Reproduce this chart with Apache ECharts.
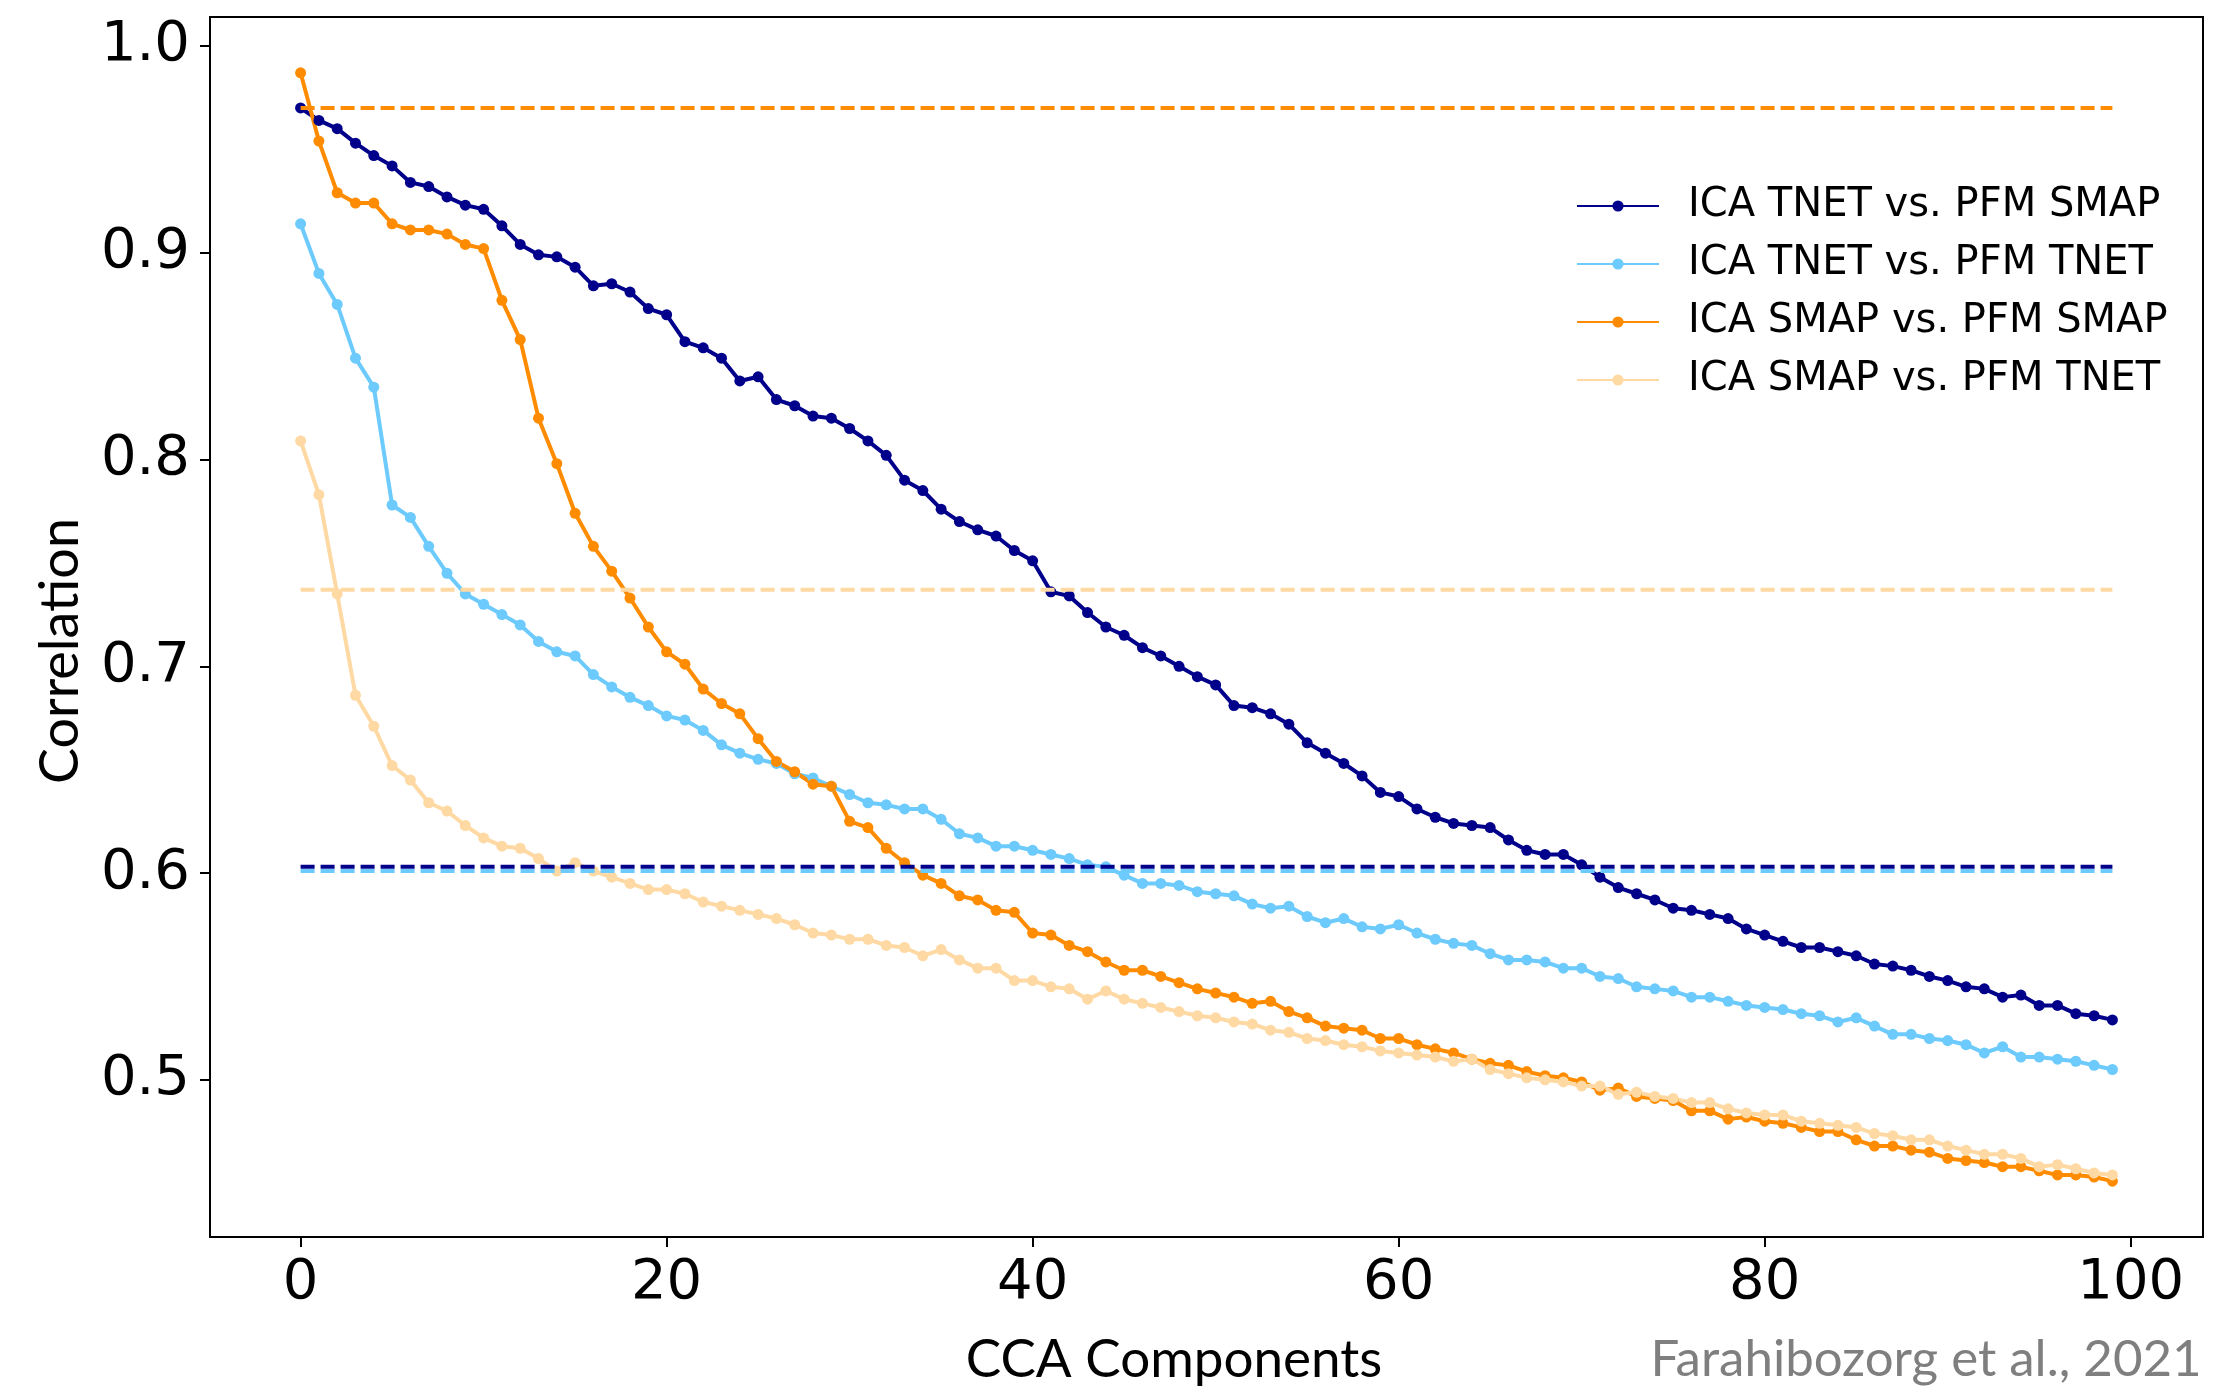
<!DOCTYPE html>
<html>
<head>
<meta charset="utf-8">
<title>CCA correlation</title>
<script src="https://cdn.jsdelivr.net/npm/echarts@6/dist/echarts.min.js"></script>
<style>
  html, body { margin: 0; padding: 0; background: #fff; }
  #chart { width: 2229px; height: 1391px; }
</style>
</head>
<body>
<div id="chart"></div>
<script>
// values, component 0..99
var tnetSmap = [
  0.970, 0.964, 0.960, 0.953, 0.947, 0.942, 0.934, 0.932, 0.927, 0.923, 0.921,
  0.913, 0.904, 0.899, 0.898, 0.893, 0.884, 0.885, 0.881, 0.873, 0.870,
  0.857, 0.854, 0.849, 0.838, 0.840, 0.829, 0.826, 0.821, 0.820, 0.815,
  0.809, 0.802, 0.790, 0.785, 0.776, 0.770, 0.766, 0.763, 0.756, 0.751,
  0.736, 0.734, 0.726, 0.719, 0.715, 0.709, 0.705, 0.700, 0.695, 0.691,
  0.681, 0.680, 0.677, 0.672, 0.663, 0.658, 0.653, 0.647, 0.639, 0.637,
  0.631, 0.627, 0.624, 0.623, 0.622, 0.616, 0.611, 0.609, 0.609, 0.604,
  0.598, 0.593, 0.590, 0.587, 0.583, 0.582, 0.580, 0.578, 0.573, 0.570,
  0.567, 0.564, 0.564, 0.562, 0.560, 0.556, 0.555, 0.553, 0.550, 0.548,
  0.545, 0.544, 0.540, 0.541, 0.536, 0.536, 0.532, 0.531, 0.529
];
var tnetTnet = [
  0.914, 0.890, 0.875, 0.849, 0.835, 0.778, 0.772, 0.758, 0.745, 0.735, 0.730,
  0.725, 0.720, 0.712, 0.707, 0.705, 0.696, 0.690, 0.685, 0.681, 0.676,
  0.674, 0.669, 0.662, 0.658, 0.655, 0.653, 0.648, 0.646, 0.642, 0.638,
  0.634, 0.633, 0.631, 0.631, 0.626, 0.619, 0.617, 0.613, 0.613, 0.611,
  0.609, 0.607, 0.604, 0.603, 0.599, 0.595, 0.595, 0.594, 0.591, 0.590,
  0.589, 0.585, 0.583, 0.584, 0.579, 0.576, 0.578, 0.574, 0.573, 0.575,
  0.571, 0.568, 0.566, 0.565, 0.561, 0.558, 0.558, 0.557, 0.554, 0.554,
  0.550, 0.549, 0.545, 0.544, 0.543, 0.540, 0.540, 0.538, 0.536, 0.535,
  0.534, 0.532, 0.531, 0.528, 0.530, 0.526, 0.522, 0.522, 0.520, 0.519,
  0.517, 0.513, 0.516, 0.511, 0.511, 0.510, 0.509, 0.507, 0.505
];
var smapSmap = [
  0.987, 0.954, 0.929, 0.924, 0.924, 0.914, 0.911, 0.911, 0.909, 0.904, 0.902,
  0.877, 0.858, 0.820, 0.798, 0.774, 0.758, 0.746, 0.733, 0.719, 0.707,
  0.701, 0.689, 0.682, 0.677, 0.665, 0.654, 0.649, 0.643, 0.642, 0.625,
  0.622, 0.612, 0.605, 0.599, 0.595, 0.589, 0.587, 0.582, 0.581, 0.571,
  0.570, 0.565, 0.562, 0.557, 0.553, 0.553, 0.550, 0.547, 0.544, 0.542,
  0.540, 0.537, 0.538, 0.533, 0.530, 0.526, 0.525, 0.524, 0.520, 0.520,
  0.517, 0.515, 0.513, 0.510, 0.508, 0.507, 0.504, 0.502, 0.501, 0.499,
  0.495, 0.496, 0.492, 0.491, 0.490, 0.485, 0.485, 0.481, 0.482, 0.480,
  0.479, 0.477, 0.475, 0.475, 0.471, 0.468, 0.468, 0.466, 0.465, 0.462,
  0.461, 0.460, 0.458, 0.458, 0.456, 0.454, 0.454, 0.453, 0.451
];
var smapTnet = [
  0.809, 0.783, 0.735, 0.686, 0.671, 0.652, 0.645, 0.634, 0.630, 0.623, 0.617,
  0.613, 0.612, 0.607, 0.601, 0.605, 0.601, 0.598, 0.595, 0.592, 0.592,
  0.590, 0.586, 0.584, 0.582, 0.580, 0.578, 0.575, 0.571, 0.570, 0.568,
  0.568, 0.565, 0.564, 0.560, 0.563, 0.558, 0.554, 0.554, 0.548, 0.548,
  0.545, 0.544, 0.539, 0.543, 0.539, 0.537, 0.535, 0.533, 0.531, 0.530,
  0.528, 0.527, 0.524, 0.523, 0.520, 0.519, 0.517, 0.516, 0.514, 0.513,
  0.512, 0.511, 0.509, 0.510, 0.505, 0.503, 0.501, 0.500, 0.499, 0.497,
  0.497, 0.493, 0.494, 0.492, 0.491, 0.489, 0.489, 0.486, 0.484, 0.483,
  0.483, 0.480, 0.479, 0.478, 0.477, 0.474, 0.473, 0.471, 0.471, 0.468,
  0.466, 0.464, 0.464, 0.462, 0.458, 0.459, 0.457, 0.455, 0.454
];
// dashed reference levels, same order as the series
var refLevels = [0.603, 0.601, 0.970, 0.737];
var names = ['ICA TNET vs. PFM SMAP', 'ICA TNET vs. PFM TNET', 'ICA SMAP vs. PFM SMAP', 'ICA SMAP vs. PFM TNET'];
var colors = ['#00008b', '#6ccafc', '#ff8c00', '#ffd9a3'];
var xTicks = [0, 20, 40, 60, 80, 100];
var yTicks = [0.5, 0.6, 0.7, 0.8, 0.9, 1.0];

var chart = echarts.init(document.getElementById('chart'));

var allSeries = [tnetSmap, tnetTnet, smapSmap, smapTnet];
var series = [];
allSeries.forEach(function (vals, k) {
  series.push({
    name: names[k],
    type: 'line',
    data: vals.map(function (v, i) { return [i, v]; }),
    symbol: 'circle',
    symbolSize: 11,
    lineStyle: { width: 4, color: colors[k] },
    itemStyle: { color: colors[k] },
    z: 2
  });
});
refLevels.forEach(function (v, k) {
  series.push({
    name: names[k] + ' ref',
    type: 'line',
    data: [[0, v], [allSeries[k].length - 1, v]],
    symbol: 'none',
    lineStyle: { width: 4, color: colors[k], type: [14, 6] },
    z: 3
  });
});

var option = {
  animation: false,
  backgroundColor: '#fff',
  grid: {
    left: 210, right: 26, top: 17, bottom: 154,
    show: true, borderColor: '#000', borderWidth: 2, backgroundColor: 'transparent'
  },
  legend: {
    data: names,
    orient: 'vertical',
    left: 1571,
    top: 181,
    itemWidth: 82,
    itemHeight: 14,
    itemGap: 18,
    textStyle: { fontFamily: 'DejaVu Sans', fontSize: 40, color: '#000', padding: [0, 0, 0, 24] }
  },
  xAxis: {
    type: 'value',
    min: -4.95,
    max: 103.95,
    axisLine: { show: false, onZero: false },
    splitLine: { show: false },
    axisTick: { show: true, length: 10, inside: false, customValues: xTicks, lineStyle: { color: '#000', width: 2 } },
    axisLabel: { customValues: xTicks, margin: 18, fontFamily: 'DejaVu Sans', fontSize: 56, color: '#000' }
  },
  yAxis: {
    type: 'value',
    min: 0.424,
    max: 1.014,
    axisLine: { show: false, onZero: false },
    splitLine: { show: false },
    axisTick: { show: true, length: 10, inside: false, customValues: yTicks, lineStyle: { color: '#000', width: 2 } },
    axisLabel: {
      customValues: yTicks, margin: 20, fontFamily: 'DejaVu Sans', fontSize: 56, color: '#000',
      formatter: function (v) { return v.toFixed(1); }
    }
  },
  graphic: [
    {
      type: 'text', x: 61, y: 651, rotation: Math.PI / 2,
      style: { text: 'Correlation', fontFamily: 'Lato', fontSize: 54, fill: '#000', align: 'center', verticalAlign: 'middle' }
    },
    {
      type: 'text', x: 1174, y: 1360,
      style: { text: 'CCA Components', fontFamily: 'Lato', fontSize: 53, fill: '#000', align: 'center', verticalAlign: 'middle' }
    },
    {
      type: 'text', x: 1926, y: 1360,
      style: { text: 'Farahibozorg et al., 2021', fontFamily: 'Lato', fontSize: 51, fill: '#7f7f7f', align: 'center', verticalAlign: 'middle' }
    }
  ],
  series: series
};

chart.setOption(option);
</script>
</body>
</html>
